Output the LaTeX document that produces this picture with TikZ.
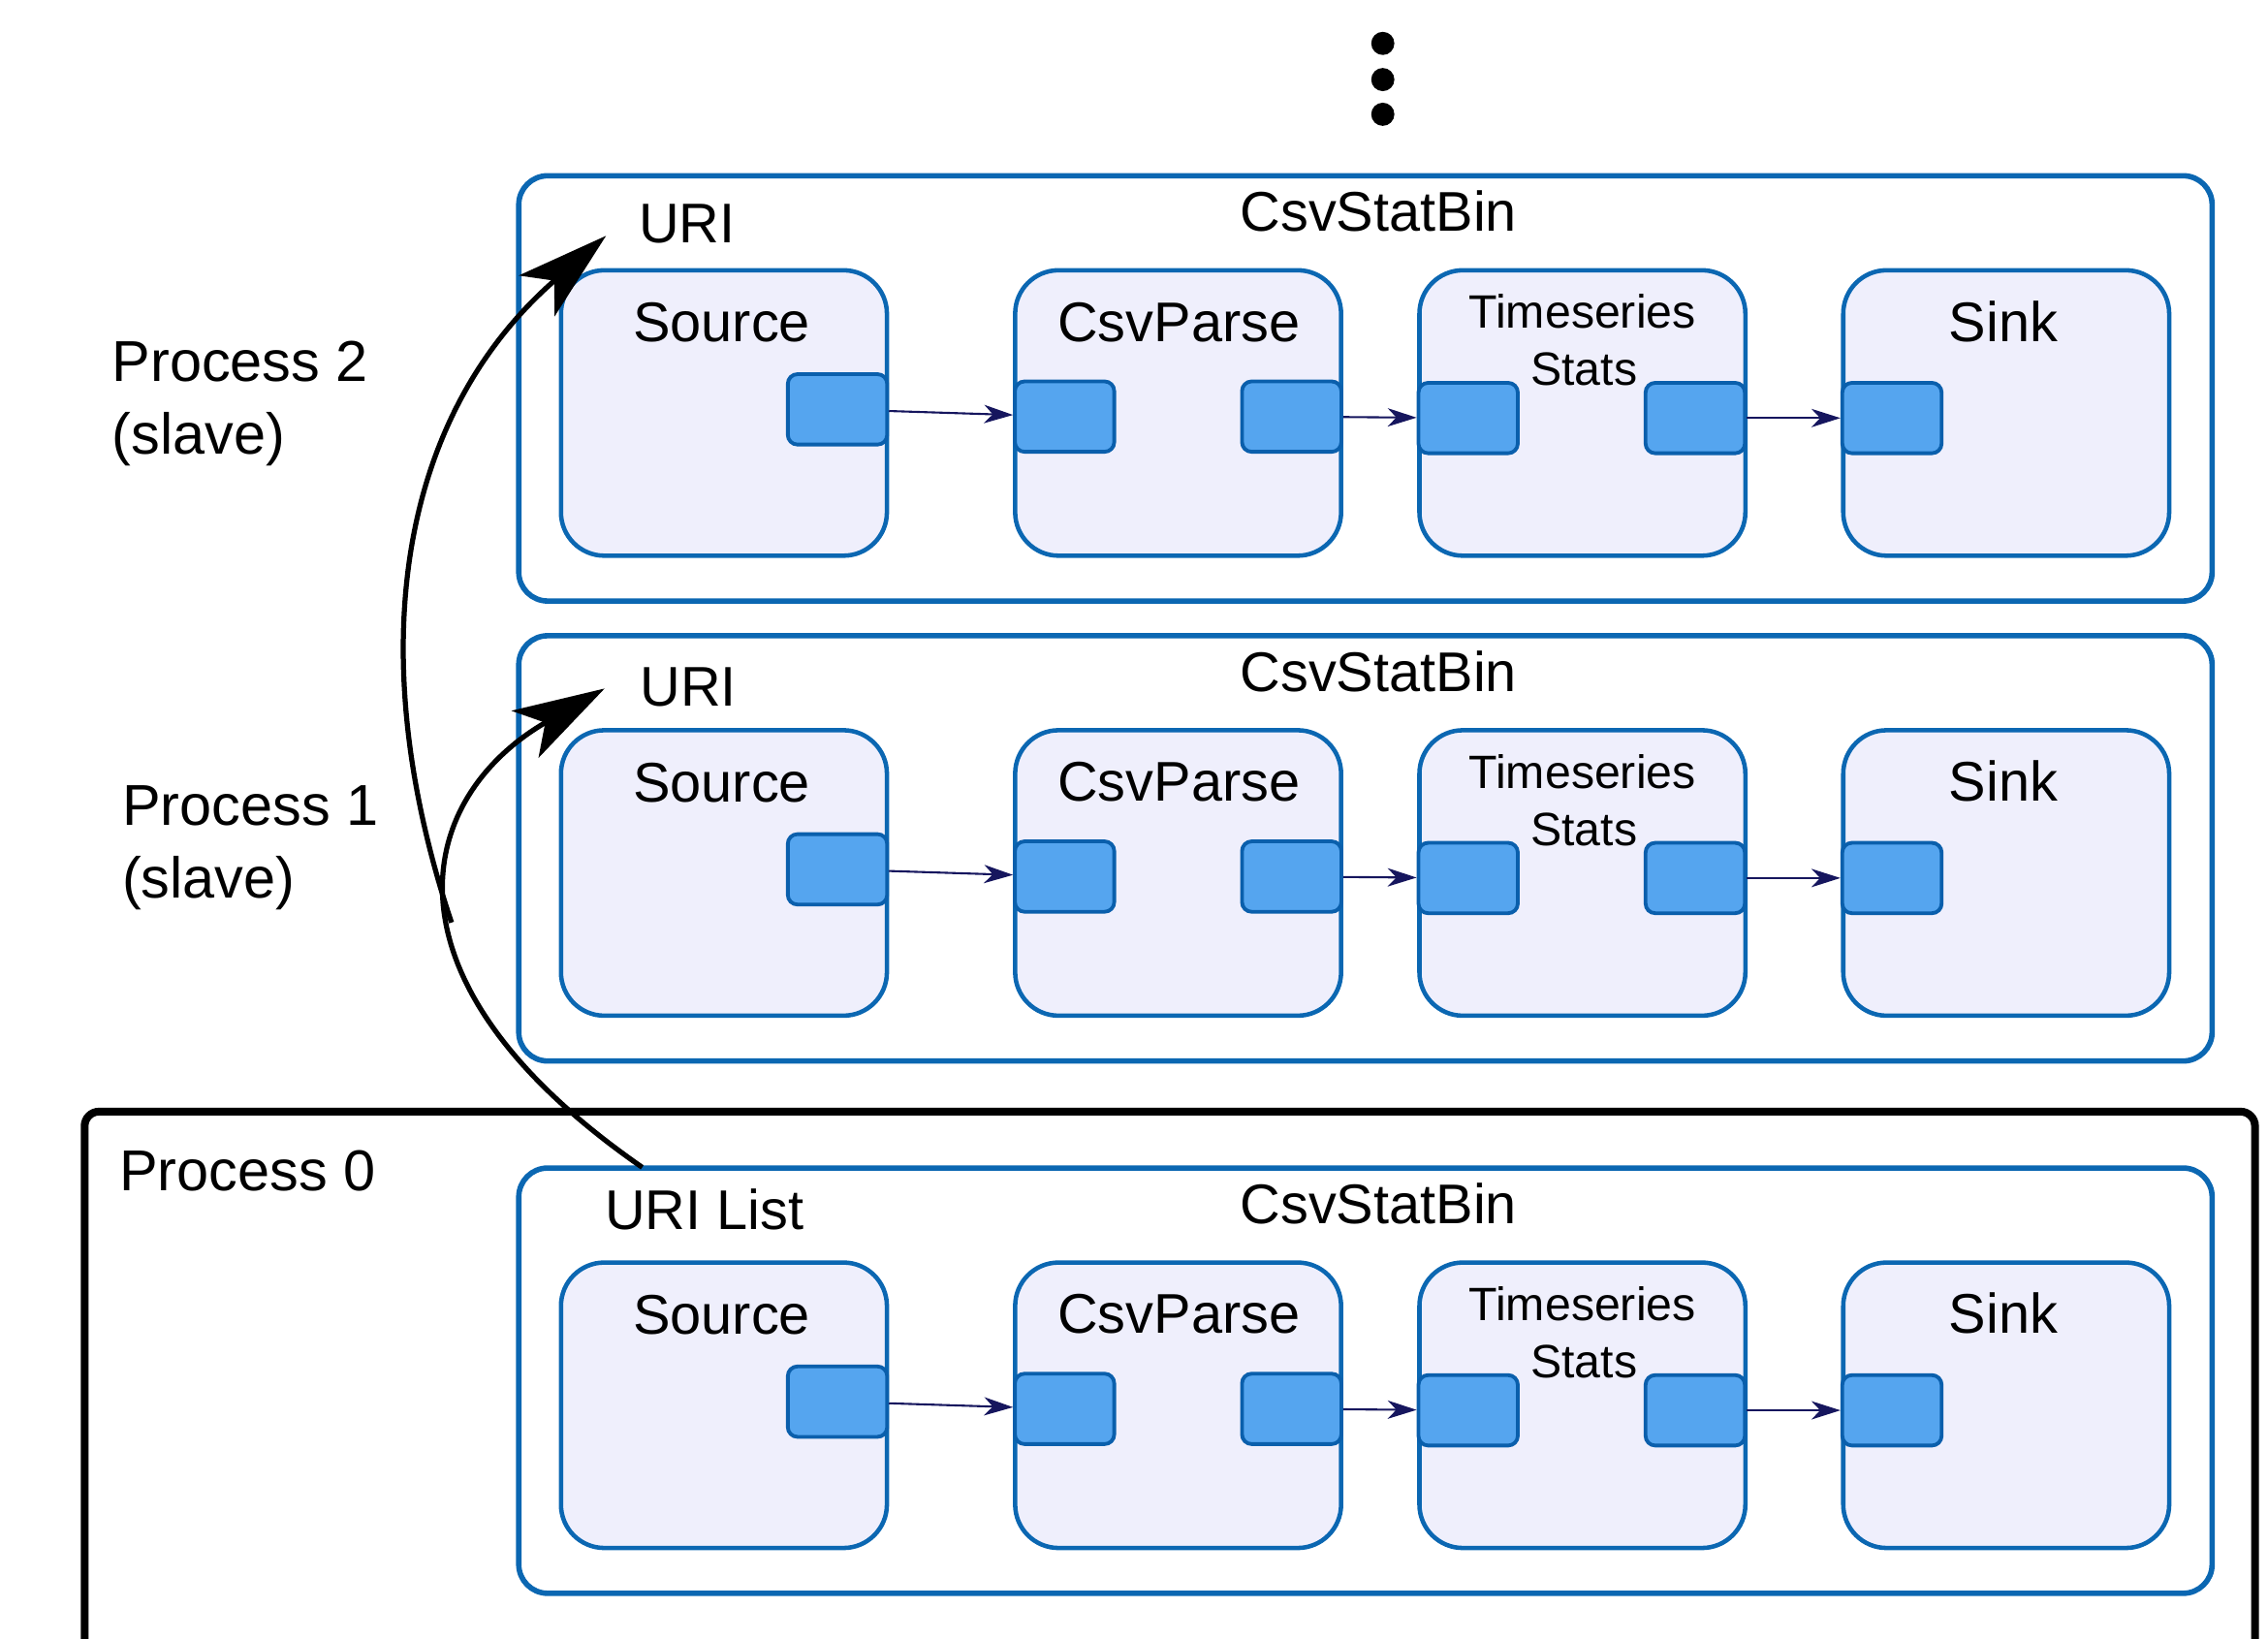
\documentclass[tikz,border=0pt]{standalone}
\usepackage{fontspec}
\setmainfont{Liberation Sans}
\usetikzlibrary{arrows.meta}
\definecolor{binsin}{HTML}{0B67B2}
\definecolor{elempohja}{HTML}{EFEFFC}
\definecolor{porttisin}{HTML}{55A5EF}
\definecolor{porttireuna}{HTML}{0A5FAC}
\definecolor{linkkisin}{HTML}{16165E}
\begin{document}
\begin{tikzpicture}[x=0.15mm, y=-0.15mm,
      bini/.style={draw=binsin, line width=1.6pt, rounded corners=3mm,
        minimum width=175.6mm, minimum height=44.1mm, inner sep=0},
      elementti/.style={draw=binsin, fill=elempohja, line width=1.3pt,
        rounded corners=4.5mm, minimum width=33.8mm, minimum height=29.6mm, inner sep=0},
      portti/.style={draw=porttireuna, fill=porttisin, line width=1.1pt,
        rounded corners=1mm, minimum width=10.3mm, minimum height=7.3mm, inner sep=0},
      linkki/.style={draw=linkkisin, line width=0.6pt,
        -{Stealth[length=3mm, width=1.9mm, inset=0.9mm]}},
      kaari/.style={line width=1.5pt, -{Stealth[length=9.5mm, width=5.6mm, inset=2.4mm]}},
      teksti/.style={inner sep=0, anchor=base, font=\fontsize{16.5}{19}\selectfont},
      pieni/.style={teksti, font=\fontsize{13.8}{16}\selectfont},
      prosessi/.style={inner sep=0, anchor=base west, align=left,
        font=\fontsize{17}{21.5}\selectfont}]

      \useasboundingbox (0,0) rectangle (1568,1133);

      % Pisteet
      \foreach \d in {30,55,79}
        \fill (956,\d) circle[radius=1.2mm];

      % Prosessi 0
      \draw [line width=2.3pt, rounded corners=1.5mm]
        (58.5,1150) -- (58.5,768.5) -- (1559,768.5) -- (1559,1150);

      % Binit ja elementit
      \foreach \i/\y/\ux/\uy/\uri in {2/120/475/48/URI, 1/438/476/50/URI, 0/806/487/44/URI List} {
        \node [bini] (bin\i) at (944,\y+148.5) {};
        \node [teksti] (nimi\i) at (953,\y+40) {CsvStatBin};
        \node [teksti] (uri\i) at (\ux,\y+\uy) {\uri};

        \node [elementti] (src\i) at (500.5,\y+165.5) {};
        \node [elementti] (parse\i) at (814.5,\y+165.5) {};
        \node [elementti] (stats\i) at (1094,\y+165.5) {};
        \node [elementti] (sink\i) at (1387,\y+165.5) {};

        \node [teksti] (srcnimi\i) at (499,\y+116.5) {Source};
        \node [teksti] (parsenimi\i) at (815,\y+116) {CsvParse};
        \node [pieni] (statsnimi\i) at (1094,\y+107) {Timeseries};
        \node [pieni] (statsnimib\i) at (1095,\y+146.5) {Stats};
        \node [teksti] (sinknimi\i) at (1385,\y+116) {Sink};

        \node [portti] (srcout\i) at (579,\y+163) {};
        \node [portti] (parsein\i) at (736,\y+168) {};
        \node [portti] (parseout\i) at (893,\y+168) {};
        \node [portti] (statsin\i) at (1015,\y+169) {};
        \node [portti] (statsout\i) at (1172,\y+169) {};
        \node [portti] (sinkin\i) at (1308,\y+169) {};

        \draw [linkki] (srcout\i) -- (parsein\i);
        \draw [linkki] (parseout\i) -- (statsin\i);
        \draw [linkki] (statsout\i) -- (sinkin\i);
      }

      % Prosessien nimet
      \node [prosessi] (proc2) at (77,314) {Process 2\\(slave)};
      \node [prosessi] (proc1) at (84,621) {Process 1\\(slave)};
      \node [prosessi] (proc0) at (82,823.5) {Process 0};

      % Kaaret
      \coordinate (lahto) at (444,807);
      \coordinate (kohde1) at (418,476);
      \coordinate (kohde2) at (419,163);
      \draw [kaari] (lahto) .. controls (255,676) and (287.5,551) .. (kohde1)
        coordinate[pos=0.45] (haara);
      \draw [kaari] (haara) .. controls (250,452) and (275,288) .. (kohde2);
    \end{tikzpicture}
\end{document}
